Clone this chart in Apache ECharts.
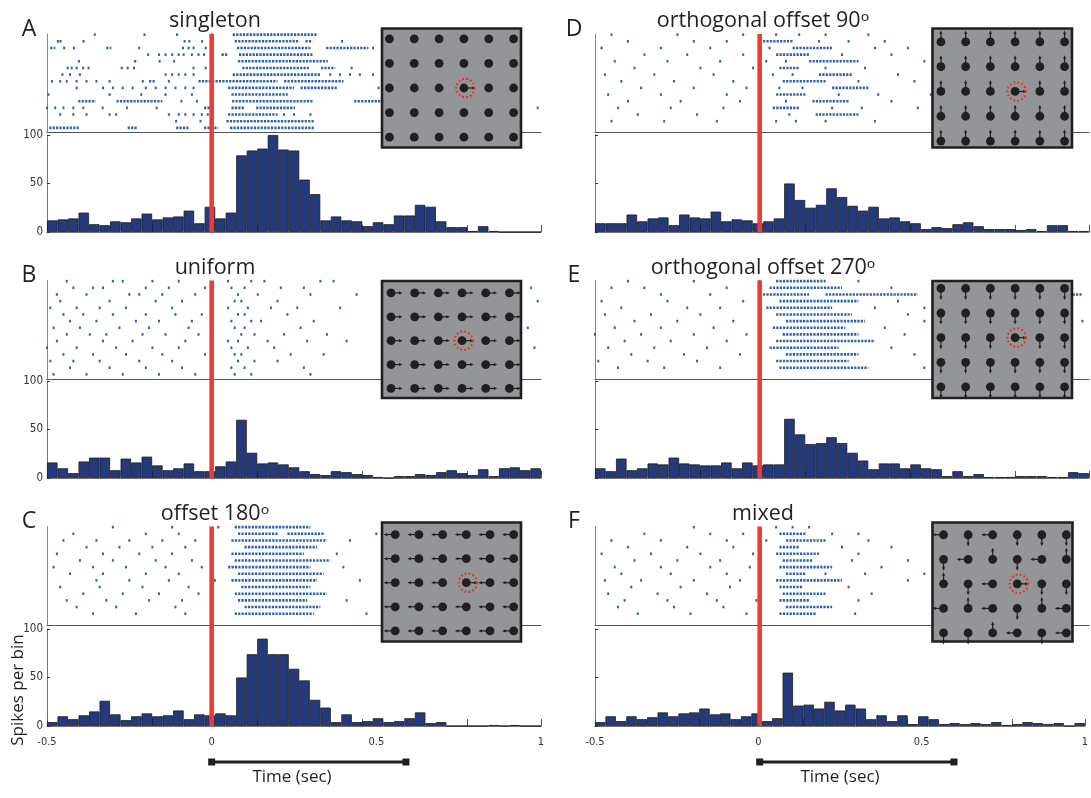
<!DOCTYPE html>
<html>
<head>
<meta charset="utf-8">
<script src="https://cdn.jsdelivr.net/npm/echarts@6/dist/echarts.min.js"></script>
<style>
  html, body { margin: 0; padding: 0; background: #fff; }
  #chart { width: 1091px; height: 798px; }
</style>
</head>
<body>
<div id="chart"></div>
<script>
// ---- data -------------------------------------------------------------
const panelLetters = ['A', 'B', 'C', 'D', 'E', 'F'];
const panelTitles = ['singleton', 'uniform', 'offset 180ᵒ',
  'orthogonal offset 90ᵒ', 'orthogonal offset 270ᵒ', 'mixed'];

// spikes per bin, 47 bins from -0.5 s to 1 s
const histA = [12,13,14,20,8,7,11,10,14,19,13,15,16,22,9,26,14,20,79,84,86,100,85,84,54,39,12,16,12,11,6,10,8,17,17,28,26,11,5,5,1,6,1,0,0,0,0];
const histB = [16,10,5,17,21,21,8,20,16,22,13,8,10,15,7,7,12,17,60,26,15,16,14,11,7,4,3,7,6,4,3,1,0,2,2,4,3,6,8,5,3,9,2,10,11,8,10];
const histC = [4,10,7,11,15,26,12,6,10,13,10,11,16,7,12,11,13,11,50,74,90,74,74,59,47,27,19,4,12,4,5,8,4,5,8,14,3,4,0,0,0,0,1,0,1,0,0];
const histD = [9,9,9,18,11,14,15,7,18,15,14,21,11,13,12,9,11,14,50,33,25,28,45,36,27,22,26,14,15,11,9,3,5,4,8,10,6,3,3,3,2,3,1,7,7,1,1];
const histE = [10,7,20,8,10,15,14,21,15,14,13,13,16,10,16,13,14,14,61,45,35,36,42,36,26,18,9,15,15,10,14,10,9,2,7,2,4,1,1,1,2,2,2,1,1,6,5];
const histF = [4,10,5,10,7,9,14,10,13,14,18,12,13,7,10,13,5,8,55,21,22,18,25,16,22,18,7,11,5,11,2,10,7,2,3,2,3,2,4,1,2,4,3,2,3,0,3];

// raster: one array per trial (top to bottom); a number is one spike, [t0, t1] a dense run
const rasterA = [
  [-0.355, -0.204, -0.105, 0.0, [0.064, 0.322]],
  [-0.467, -0.459, -0.389, -0.082, -0.068, -0.029, [0.07, 0.265], [0.285, 0.306], 0.396],
  [[-0.49, -0.475], -0.448, -0.418, [-0.32, -0.305], -0.22, -0.087, -0.07, -0.055, -0.018, [0.077, 0.30], [0.348, 0.476], 0.49],
  [-0.193, -0.16, -0.14, -0.12, -0.1, -0.085, -0.06, -0.04, -0.023, [0.03, 0.05], [0.083, 0.306]],
  [-0.403, [-0.236, -0.225], -0.158, -0.114, [0.08, 0.353]],
  [-0.437, -0.425, -0.41, -0.39, -0.374, -0.273, -0.255, -0.236, -0.055, -0.018, [0.093, 0.295], [0.332, 0.375], 0.425],
  [-0.453, -0.43, -0.4, -0.14, -0.12, -0.1, -0.08, -0.055, 0.0, [0.064, 0.33], 0.36, 0.39, 0.42, 0.45, 0.49, 0.518],
  [-0.485, -0.46, -0.44, -0.41, -0.38, -0.35, -0.31, -0.209, [-0.19, -0.17], -0.13, [-0.04, 0.2], [0.22, 0.4]],
  [-0.41, -0.33, -0.3, -0.27, -0.24, -0.2, -0.17, -0.14, -0.11, -0.08, -0.055, [0.05, 0.25], [0.27, 0.38], 0.507],
  [-0.496, -0.31, -0.214, -0.14, -0.06, [0.06, 0.231]],
  [[-0.405, -0.352], [-0.289, -0.15], -0.092, -0.045, [0.062, 0.306], [0.433, 0.518]],
  [-0.5, -0.475, -0.45, -0.42, -0.39, -0.331, -0.257, -0.167, [-0.023, 0.0], [0.06, 0.1], [0.135, 0.253], 0.99],
  [-0.46, -0.42, -0.38, -0.31, -0.29, -0.13, -0.1, -0.08, -0.055, -0.03, -0.012, [0.05, 0.2], 0.22, 0.25, 0.3],
  [-0.108, -0.034, [0.045, 0.31]],
  [[-0.493, -0.4], [-0.255, -0.225], [-0.108, -0.07], [-0.023, 0.02], [0.056, 0.31]]
];
const rasterB = [
  [-0.44, -0.3, -0.27, -0.18, -0.1, 0.05, 0.12, 0.16, 0.33, 0.37],
  [-0.42, -0.36, -0.33, -0.2, -0.13, -0.02, 0.06, 0.1, 0.21, 0.28, 0.97],
  [-0.47, -0.38, -0.25, -0.22, -0.15, -0.05, 0.08, 0.14, 0.3, 0.44],
  [-0.46, -0.31, -0.17, -0.09, 0.07, 0.09, 0.2, 0.52, 0.99],
  [-0.49, -0.41, -0.34, -0.26, -0.12, 0.05, 0.11, 0.18, 0.26, 0.39],
  [-0.45, -0.39, -0.3, -0.2, -0.11, -0.03, 0.08, 0.1, 0.23, 0.52],
  [-0.43, -0.35, -0.23, -0.16, -0.06, 0.06, 0.12, 0.15, 0.31],
  [-0.48, -0.4, -0.28, -0.19, -0.07, 0.07, 0.1, 0.27, 0.96],
  [-0.44, -0.37, -0.32, -0.21, -0.14, -0.04, 0.09, 0.13, 0.22, 0.35],
  [-0.47, -0.33, -0.24, -0.08, 0.05, 0.08, 0.17, 0.29, 0.41],
  [-0.5, -0.41, -0.29, -0.18, -0.1, 0.06, 0.11, 0.19, 0.98],
  [-0.45, -0.36, -0.26, -0.15, -0.02, 0.07, 0.09, 0.24, 0.34],
  [-0.49, -0.42, -0.34, -0.22, -0.12, 0.08, 0.13, 0.2],
  [-0.43, -0.31, -0.2, -0.09, 0.06, 0.1, 0.28, 0.53],
  [-0.48, -0.38, -0.27, -0.16, -0.05, 0.07, 0.12, 0.3]
];
const rasterC = [
  [-0.3, -0.12, 0.02, [0.07, 0.3]],
  [-0.42, -0.2, -0.1, [0.08, 0.2], [0.23, 0.34], 0.5],
  [-0.45, -0.35, -0.25, -0.15, -0.05, [0.06, 0.35], 0.42],
  [-0.38, -0.28, -0.18, -0.08, [0.1, 0.32]],
  [-0.47, -0.33, -0.22, -0.12, 0.0, [0.06, 0.28], 0.38, 0.55],
  [-0.4, -0.3, -0.17, -0.06, [0.07, 0.36]],
  [-0.48, -0.36, -0.26, -0.14, -0.03, [0.05, 0.3], 0.4, 0.6],
  [-0.43, -0.33, -0.2, -0.1, [0.08, 0.34]],
  [-0.35, -0.25, -0.13, 0.01, [0.06, 0.32], 0.45],
  [-0.46, -0.34, -0.21, -0.07, [0.09, 0.3], 0.52],
  [-0.39, -0.27, -0.16, -0.04, [0.07, 0.35]],
  [-0.44, -0.32, -0.19, -0.09, [0.08, 0.29], 0.41],
  [-0.41, -0.29, -0.11, 0.0, [0.1, 0.33]],
  [-0.36, -0.23, -0.08, [0.07, 0.31], 0.47]
];
const rasterD = [
  [-0.45, -0.25, -0.05, 0.05, 0.12, 0.2, 0.33],
  [-0.4, -0.2, -0.1, [0.0, 0.1], 0.18, 0.27, 0.38],
  [-0.48, -0.3, -0.15, 0.03, [0.1, 0.22], 0.35, 0.45],
  [-0.35, -0.22, -0.05, [0.05, 0.15], 0.25, 0.4],
  [-0.44, -0.28, -0.12, 0.02, 0.08, [0.15, 0.3], 0.5],
  [-0.38, -0.18, -0.02, [0.06, 0.12], 0.2, 0.32],
  [-0.47, -0.32, -0.14, 0.04, 0.1, [0.18, 0.28], 0.42],
  [-0.42, -0.26, -0.08, [0.07, 0.2], 0.3, 0.47],
  [-0.36, -0.2, -0.04, 0.06, 0.13, [0.22, 0.33]],
  [-0.46, -0.3, -0.1, [0.05, 0.14], 0.24, 0.36, 0.52],
  [-0.4, -0.24, -0.06, 0.08, [0.16, 0.27], 0.4],
  [-0.43, -0.27, -0.11, [0.04, 0.12], 0.22, 0.31, 0.48],
  [-0.37, -0.19, 0.0, 0.09, [0.17, 0.3]],
  [-0.45, -0.29, -0.13, 0.05, 0.11, 0.2, 0.35]
];
const rasterE = [
  [-0.4, -0.2, 0.0, [0.05, 0.2], 0.3],
  [-0.45, -0.35, -0.1, [0.03, 0.25], 0.4, 0.55],
  [-0.3, -0.15, [0.0, 0.15], [0.2, 0.48], [0.62, 0.98]],
  [-0.48, -0.28, -0.05, [0.06, 0.3], 0.42],
  [-0.42, -0.22, -0.12, [0.02, 0.22], 0.35, 0.5],
  [-0.47, -0.33, -0.18, [0.05, 0.28], 0.45],
  [-0.38, -0.25, -0.08, [0.08, 0.32], 0.5, 0.98],
  [-0.44, -0.3, -0.14, [0.04, 0.26], 0.38],
  [-0.5, -0.36, -0.2, -0.04, [0.07, 0.3], 0.44],
  [-0.41, -0.27, -0.1, [0.05, 0.35], 0.55],
  [-0.46, -0.32, -0.16, [0.03, 0.24], 0.4],
  [-0.39, -0.23, -0.06, [0.08, 0.3], 0.47],
  [-0.49, -0.34, -0.19, [0.05, 0.27]],
  [-0.43, -0.29, -0.12, [0.06, 0.33], 0.5]
];
const rasterF = [
  [-0.2, 0.05, 0.1, 0.15],
  [-0.35, -0.15, -0.05, [0.06, 0.14], 0.22, 0.3],
  [-0.45, -0.3, -0.1, 0.02, [0.08, 0.2], 0.33],
  [-0.4, -0.22, -0.08, [0.06, 0.12], 0.25, 0.4],
  [-0.48, -0.33, -0.18, -0.02, [0.05, 0.18], 0.3],
  [-0.38, -0.25, -0.12, [0.07, 0.16], 0.28, 0.45],
  [-0.44, -0.3, -0.15, -0.03, [0.06, 0.22], 0.37],
  [-0.42, -0.27, -0.1, [0.08, 0.14], 0.2, 0.32, 0.5],
  [-0.47, -0.36, -0.2, -0.06, [0.05, 0.25], 0.45],
  [-0.39, -0.24, -0.09, [0.06, 0.13], 0.27],
  [-0.46, -0.31, -0.16, [0.07, 0.2], 0.34],
  [-0.41, -0.28, -0.13, -0.01, [0.06, 0.15], 0.3],
  [-0.43, -0.26, -0.11, [0.08, 0.22]],
  [-0.37, -0.21, -0.04, [0.06, 0.17], 0.29]
];

// inset arrow fields, 5 rows x 6 columns: R right, L left, U up, D down, . none
const fieldA = ['......', '......', '...R..', '......', '......'];
const fieldB = ['RRRRRR', 'RRRRRR', 'RRRRRR', 'RRRRRR', 'RRRRRR'];
const fieldC = ['LLLLLL', 'LLLLLL', 'LLLRLL', 'LLLLLL', 'LLLLLL'];
const fieldD = ['UUUUUU', 'UUUUUU', 'UUURUU', 'UUUUUU', 'UUUUUU'];
const fieldE = ['DDDDDD', 'DDDDDD', 'DDDRDD', 'DDDDDD', 'DDDDDD'];
const fieldF = ['LDLDDD', 'DLUDLU', 'UDLRDD', 'LULDUL', 'DDULDL'];
const targetCell = [3, 2];     // column, row of the ringed element

const timeTicks = [-0.5, 0, 0.5, 1];
const stimBar = [0, 0.59];     // seconds

// ---- layout ------------------------------------------------------------
const colLeft = [47, 595];
const plotW = 494;
const rowGeom = [
  { rt: 34, sep: 132.5, ht: 135, hb: 232 },
  { rt: 280.5, sep: 379, ht: 381, hb: 478 },
  { rt: 526.5, sep: 625, ht: 629, hb: 726 }
];
// inset boxes and the data window each shows (dots sit off-centre where arrows stick out)
const insetBox = [
  { l: 382, t: 28.5, w: 139, h: 119, x: [-0.3, 5.3], y: [-0.42, 4.42] },
  { l: 382, t: 281, w: 139, h: 117, x: [-0.38, 5.49], y: [-0.5, 4.4] },
  { l: 382, t: 522.5, w: 139, h: 119, x: [-0.56, 5.31], y: [-0.5, 4.44] },
  { l: 932.5, t: 28.5, w: 139.5, h: 119, x: [-0.34, 5.3], y: [-0.54, 4.26] },
  { l: 932.5, t: 281, w: 139.5, h: 117, x: [-0.34, 5.3], y: [-0.3, 4.45] },
  { l: 932.5, t: 522.5, w: 140, h: 119, x: [-0.45, 5.25], y: [-0.5, 4.35] }
];

const SPIKE = '#2d60ac';
const BAR = '#253a7c';
const RED = '#ef3b36';
const INK = '#231f20';
const NARROW = "'Liberation Sans Narrow','DejaVu Sans Condensed','Roboto Condensed',sans-serif";
const HUMAN = "'Open Sans','Noto Sans',sans-serif";

const hists = [histA, histB, histC, histD, histE, histF];
const rasters = [rasterA, rasterB, rasterC, rasterD, rasterE, rasterF];
const fields = [fieldA, fieldB, fieldC, fieldD, fieldE, fieldF];

const grids = [], xAxes = [], yAxes = [], series = [], graphics = [];
const addGrid = g => (grids.push(g), grids.length - 1);
const addX = a => (xAxes.push(a), xAxes.length - 1);
const addY = a => (yAxes.push(a), yAxes.length - 1);
const hidden = (gi, extra) => Object.assign({ gridIndex: gi, type: 'value', show: false }, extra);

function spikeItem(params, api) {
  const a = api.coord([api.value(0), api.value(2)]);
  const b = api.coord([api.value(1), api.value(2)]);
  if (b[0] - a[0] < 1) {
    return { type: 'rect', shape: { x: a[0] - 1, y: a[1] - 1.3, width: 2, height: 2.6 }, style: { fill: SPIKE } };
  }
  return { type: 'line', shape: { x1: a[0], y1: a[1], x2: b[0], y2: b[1] },
    style: { stroke: SPIKE, lineWidth: 2.6, lineDash: [2.2, 1.2] } };
}

const DIRS = { R: [1, 0], L: [-1, 0], U: [0, -1], D: [0, 1] };
function arrowItem(params, api) {
  const c = api.coord([api.value(0), api.value(1)]);
  const v = [api.value(2), api.value(3)];
  const len = 10.5;
  const e = [c[0] + v[0] * len, c[1] + v[1] * len];
  const p = [-v[1], v[0]];
  return { type: 'group', children: [
    { type: 'line', shape: { x1: c[0], y1: c[1], x2: e[0] - v[0] * 1.5, y2: e[1] - v[1] * 1.5 },
      style: { stroke: INK, lineWidth: 1.2 } },
    { type: 'polygon', shape: { points: [
        [e[0] + v[0], e[1] + v[1]],
        [e[0] - v[0] * 2.5 + p[0] * 1.6, e[1] - v[1] * 2.5 + p[1] * 1.6],
        [e[0] - v[0] * 2.5 - p[0] * 1.6, e[1] - v[1] * 2.5 - p[1] * 1.6]] },
      style: { fill: INK } }
  ] };
}

for (let p = 0; p < 6; p++) {
  const col = p < 3 ? 0 : 1;
  const row = p % 3;
  const L = colLeft[col];
  const g = rowGeom[row];

  // raster
  const rg = addGrid({ left: L, top: g.rt, width: plotW, height: g.sep - g.rt });
  const rx = addX({ gridIndex: rg, type: 'value', min: -0.5, max: 1,
    axisLine: { show: true, onZero: false, lineStyle: { color: '#555', width: 1 } },
    axisTick: { show: false }, axisLabel: { show: false }, splitLine: { show: false } });
  const ry = addY({ gridIndex: rg, type: 'value', min: 0.3, max: 15.1,
    axisLine: { show: true, onZero: false, lineStyle: { color: '#888', width: 1 } },
    axisTick: { show: false }, axisLabel: { show: false }, splitLine: { show: false } });
  const spikes = [];
  rasters[p].forEach((trial, r) => {
    trial.forEach(s => {
      if (Array.isArray(s)) spikes.push([s[0], s[1], 15 - r]);
      else spikes.push([s, s, 15 - r]);
    });
  });
  series.push({ type: 'custom', xAxisIndex: rx, yAxisIndex: ry, renderItem: spikeItem,
    data: spikes, silent: true, z: 2, clip: false });

  // histogram
  const hg = addGrid({ left: L, top: g.ht, width: plotW, height: g.hb - g.ht });
  const hist = hists[p];
  const hc = addX({ gridIndex: hg, type: 'category', show: false, position: 'top',
    data: hist.map((v, i) => i), boundaryGap: true });
  addX({ gridIndex: hg, type: 'value', min: 0, max: hist.length, interval: 10, position: 'bottom',
    axisLine: { show: true, onZero: false, lineStyle: { color: '#777', width: 1 } },
    axisTick: { show: true, inside: true, length: 7, lineStyle: { color: '#555' } },
    axisLabel: { show: false }, splitLine: { show: false } });
  if (row === 2) {
    addX({ gridIndex: hg, type: 'value', min: timeTicks[0], max: timeTicks[timeTicks.length - 1],
      interval: 0.5, position: 'bottom',
      axisLine: { show: false }, axisTick: { show: false }, splitLine: { show: false },
      axisLabel: { show: true, margin: 11, fontSize: 11, color: '#333', fontFamily: NARROW } });
  }
  const hy = addY({ gridIndex: hg, type: 'value', min: 0, max: 100, interval: 50,
    axisLine: { show: true, onZero: false, lineStyle: { color: '#777', width: 1 } },
    axisTick: { show: true, inside: true, length: 3, lineStyle: { color: '#333' } },
    axisLabel: { show: col === 0, margin: 4, fontSize: 11.5, color: '#333', fontFamily: NARROW },
    splitLine: { show: false } });
  series.push({ type: 'bar', xAxisIndex: hc, yAxisIndex: hy, data: hist, barCategoryGap: '0%',
    silent: true, z: 3,
    itemStyle: { color: BAR, borderColor: '#1b1b1b', borderWidth: 0.8 } });

  // stimulus onset line across raster and histogram
  const og = addGrid({ left: L, top: g.rt, width: plotW, height: g.hb - g.rt });
  const ox = addX(hidden(og, { min: -0.5, max: 1 }));
  const oy = addY(hidden(og, { min: 0, max: 1 }));
  series.push({ type: 'line', xAxisIndex: ox, yAxisIndex: oy, data: [[0, 0], [0, 1]],
    symbol: 'none', silent: true, z: 6, lineStyle: { color: RED, width: 4.6 } });

  // inset
  const b = insetBox[p];
  const ig = addGrid({ left: b.l, top: b.t, width: b.w, height: b.h });
  const ix = addX(hidden(ig, { min: b.x[0], max: b.x[1] }));
  const iy = addY(hidden(ig, { min: b.y[0], max: b.y[1], inverse: true }));
  series.push({ type: 'custom', xAxisIndex: ix, yAxisIndex: iy, data: [[0, 0]], silent: true, z: 10,
    renderItem: (params) => {
      const cs = params.coordSys;
      return { type: 'rect', shape: { x: cs.x, y: cs.y, width: cs.width, height: cs.height },
        style: { fill: '#939598', stroke: INK, lineWidth: 2.6 } };
    } });
  const dots = [], arrows = [];
  fields[p].forEach((line, r) => {
    line.split('').forEach((ch, c) => {
      dots.push([c, r]);
      if (DIRS[ch]) arrows.push([c, r, DIRS[ch][0], DIRS[ch][1]]);
    });
  });
  series.push({ type: 'custom', xAxisIndex: ix, yAxisIndex: iy, data: arrows, silent: true, z: 11,
    renderItem: arrowItem });
  series.push({ type: 'scatter', xAxisIndex: ix, yAxisIndex: iy, data: dots, silent: true, z: 12,
    symbolSize: 8.8, itemStyle: { color: INK, opacity: 1 } });
  series.push({ type: 'custom', xAxisIndex: ix, yAxisIndex: iy, data: [targetCell], silent: true, z: 13,
    renderItem: (params, api) => {
      const c = api.coord([api.value(0), api.value(1)]);
      return { type: 'circle', shape: { cx: c[0] + 1.5, cy: c[1], r: 9.2 },
        style: { fill: null, stroke: '#ee2a24', lineWidth: 2.2, lineDash: [1.6, 2.4] } };
    } });

  // titles and letters
  graphics.push({ type: 'text', x: L + plotW * 0.34, y: g.rt - 13,
    style: { text: panelTitles[p], font: '21.5px ' + HUMAN, fill: INK, textAlign: 'center', textVerticalAlign: 'middle' } });
  graphics.push({ type: 'text', x: col === 0 ? 29 : 574, y: g.rt - 5,
    style: { text: panelLetters[p], font: '23px ' + HUMAN, fill: INK, textAlign: 'center', textVerticalAlign: 'middle' } });
}

// stimulus duration bars and axis captions
for (let col = 0; col < 2; col++) {
  const sg = addGrid({ left: colLeft[col], top: 757, width: plotW, height: 10 });
  const sx = addX(hidden(sg, { min: -0.5, max: 1 }));
  const sy = addY(hidden(sg, { min: 0, max: 1 }));
  series.push({ type: 'line', xAxisIndex: sx, yAxisIndex: sy,
    data: [[stimBar[0], 0.5], [stimBar[1], 0.5]], silent: true,
    symbol: 'rect', symbolSize: 7, itemStyle: { color: INK }, lineStyle: { color: INK, width: 3 } });
  graphics.push({ type: 'text', x: colLeft[col] + 245, y: 777,
    style: { text: 'Time (sec)', font: '17px ' + HUMAN, fill: INK, textAlign: 'center', textVerticalAlign: 'middle' } });
}
graphics.push({ type: 'text', x: 18, y: 690, rotation: Math.PI / 2,
  style: { text: 'Spikes per bin', font: '17px ' + HUMAN, fill: INK, textAlign: 'center', textVerticalAlign: 'middle' } });

const chart = echarts.init(document.getElementById('chart'), null, { renderer: 'canvas' });
chart.setOption({
  animation: false,
  backgroundColor: '#fff',
  grid: grids,
  xAxis: xAxes,
  yAxis: yAxes,
  series: series,
  graphic: graphics
});
</script>
</body>
</html>
